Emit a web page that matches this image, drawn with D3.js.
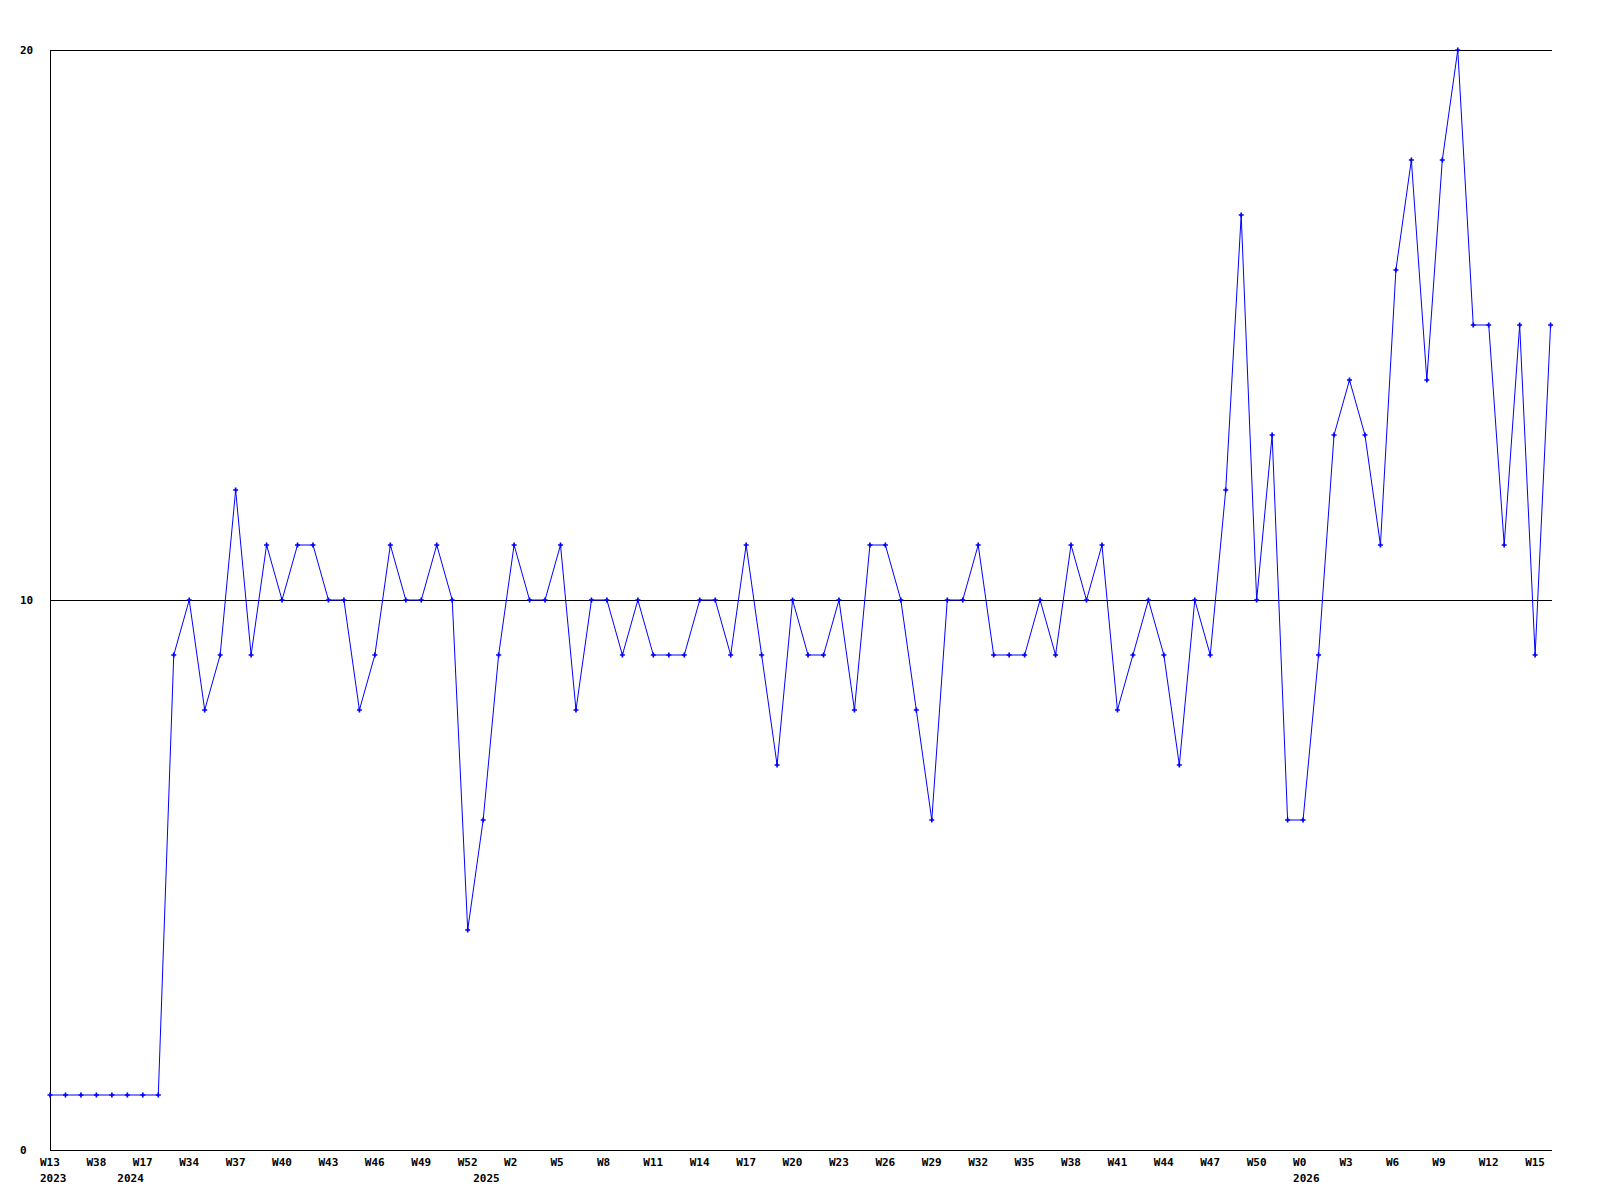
<!DOCTYPE html>
<html>
<head>
<meta charset="utf-8">
<script src="https://cdn.jsdelivr.net/npm/d3@7"></script>
<style>
  html, body { margin: 0; padding: 0; background: #ffffff; }
  svg { display: block; }
  text { font-family: "DejaVu Sans Mono", "Liberation Mono", monospace; font-weight: bold; font-size: 11px; fill: #000; }
</style>
</head>
<body>
<svg id="chart" width="1600" height="1200"></svg>
<script>
// Weekly values, one per point (98 points)
const values = [
  1, 1, 1, 1, 1, 1, 1, 1, 9, 10,
  8, 9, 12, 9, 11, 10, 11, 11, 10, 10,
  8, 9, 11, 10, 10, 11, 10, 4, 6, 9,
  11, 10, 10, 11, 8, 10, 10, 9, 10, 9,
  9, 9, 10, 10, 9, 11, 9, 7, 10, 9,
  9, 10, 8, 11, 11, 10, 8, 6, 10, 10,
  11, 9, 9, 9, 10, 9, 11, 10, 11, 8,
  9, 10, 9, 7, 10, 9, 12, 17, 10, 13,
  6, 6, 9, 13, 14, 13, 11, 16, 18, 14,
  18, 20, 15, 15, 11, 15, 9, 15
];
// Week labels shown on every third point
const weekLabels = [
  "W13", "W38", "W17", "W34", "W37", "W40", "W43", "W46", "W49", "W52",
  "W2", "W5", "W8", "W11", "W14", "W17", "W20", "W23", "W26", "W29",
  "W32", "W35", "W38", "W41", "W44", "W47", "W50", "W0", "W3", "W6",
  "W9", "W12", "W15"
];
const labelStep = 3;
// Year labels and the point index where each year starts
const yearLabels = ["2023", "2024", "2025", "2026"];
const yearStarts = [0, 5, 28, 81];
// Y axis tick values
const yTicks = [0, 10, 20];

(function () {
  const svg = d3.select("#chart");
  const mLeft = 50, mRight = 1550.6, mTop = 50, mBottom = 1150;

  const x = d3.scaleLinear().domain([0, values.length - 1]).range([mLeft, mRight]);
  const y = d3.scaleLinear().domain([0, 20]).range([mBottom, mTop]);

  const g = svg.append("g");

  // horizontal lines at 0, 10 and 20
  g.selectAll("line.h").data(yTicks).join("line")
    .attr("class", "h")
    .attr("x1", mLeft).attr("x2", Math.round(mRight) + 1)
    .attr("y1", d => Math.round(y(d)) + 0.5).attr("y2", d => Math.round(y(d)) + 0.5)
    .attr("stroke", "#000").attr("stroke-width", 1)
    .attr("shape-rendering", "crispEdges");

  // left axis line
  g.append("line")
    .attr("x1", mLeft + 0.5).attr("x2", mLeft + 0.5)
    .attr("y1", mTop).attr("y2", mBottom + 1)
    .attr("stroke", "#000").attr("stroke-width", 1)
    .attr("shape-rendering", "crispEdges");

  // y labels
  g.selectAll("text.yl").data(yTicks).join("text")
    .attr("class", "yl")
    .attr("x", 20)
    .attr("y", d => y(d) + 4)
    .text(d => d);

  // week labels
  g.selectAll("text.wl").data(weekLabels).join("text")
    .attr("class", "wl")
    .attr("x", (d, i) => x(i * labelStep) - 10)
    .attr("y", 1166)
    .text(d => d);

  // year labels
  g.selectAll("text.yr").data(yearLabels).join("text")
    .attr("class", "yr")
    .attr("x", (d, i) => x(yearStarts[i]) - 10)
    .attr("y", 1181.5)
    .text(d => d);

  // data line
  const line = d3.line().x((d, i) => x(i)).y(d => y(d));
  g.append("path")
    .datum(values)
    .attr("d", line)
    .attr("fill", "none")
    .attr("stroke", "#0000ff")
    .attr("stroke-width", 1);

  // markers (small crosses)
  const cross = d3.symbol().type(d3.symbolCross).size(14);
  g.selectAll("path.m").data(values).join("path")
    .attr("class", "m")
    .attr("transform", (d, i) => `translate(${x(i)},${y(d)})`)
    .attr("d", cross)
    .attr("fill", "#0000ff");
})();
</script>
</body>
</html>
